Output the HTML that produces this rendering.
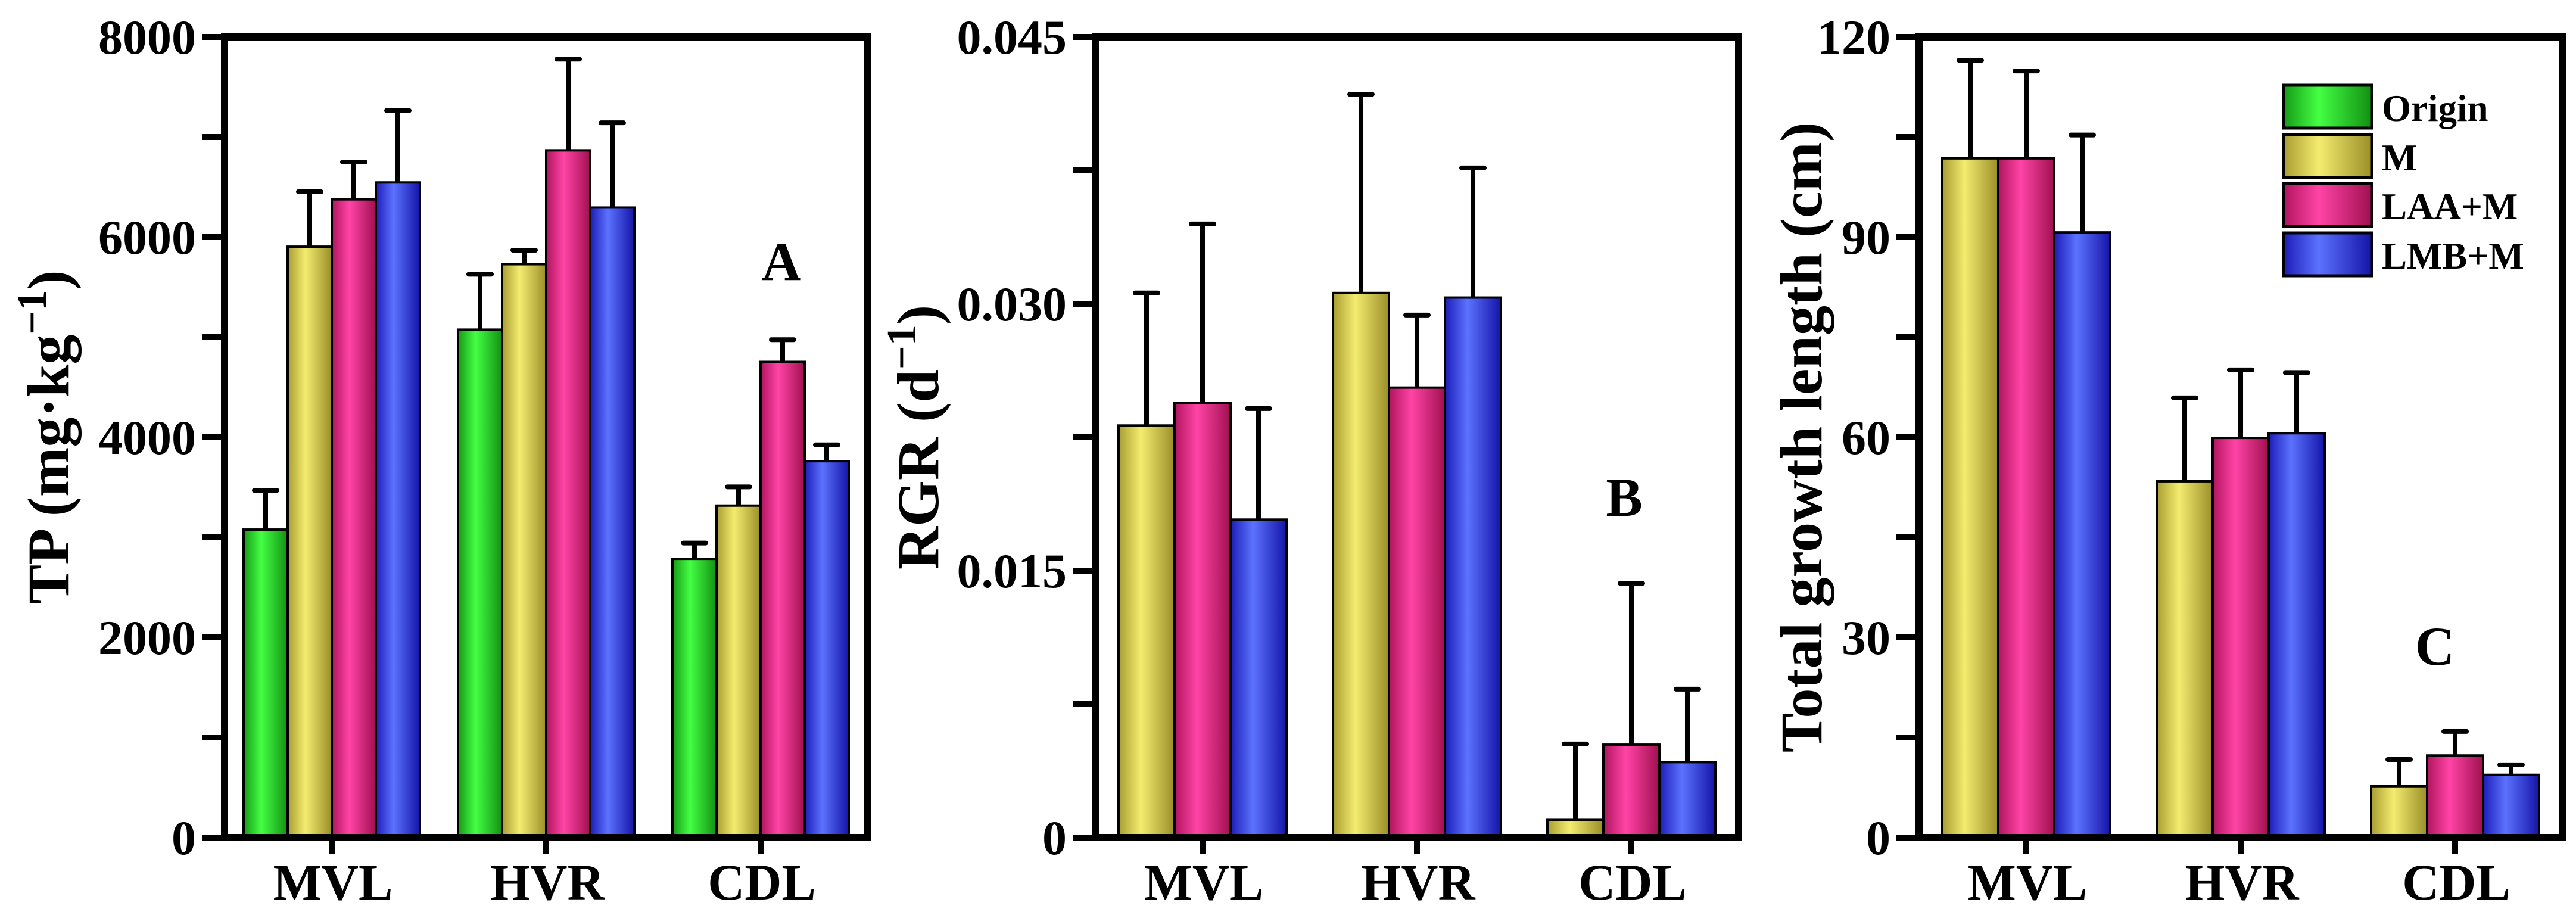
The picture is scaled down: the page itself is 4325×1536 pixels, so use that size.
<!DOCTYPE html>
<html><head><meta charset="utf-8"><style>
html,body{margin:0;padding:0;background:#fff;}
svg{display:block;font-family:"Liberation Serif",serif;font-weight:bold;}
</style></head><body>
<svg id="fig" width="4325" height="1536" viewBox="0 0 4325 1536" xmlns="http://www.w3.org/2000/svg">
<defs>
<linearGradient id="g-green" x1="0" x2="1" y1="0" y2="0"><stop offset="0" stop-color="#159a15"/><stop offset="0.4" stop-color="#44ff44"/><stop offset="1" stop-color="#129012"/></linearGradient>
<linearGradient id="g-yellow" x1="0" x2="1" y1="0" y2="0"><stop offset="0" stop-color="#a89c30"/><stop offset="0.4" stop-color="#f4ec70"/><stop offset="1" stop-color="#9a8e28"/></linearGradient>
<linearGradient id="g-pink" x1="0" x2="1" y1="0" y2="0"><stop offset="0" stop-color="#b0145e"/><stop offset="0.4" stop-color="#ff44a6"/><stop offset="1" stop-color="#a01050"/></linearGradient>
<linearGradient id="g-blue" x1="0" x2="1" y1="0" y2="0"><stop offset="0" stop-color="#1c1cb8"/><stop offset="0.4" stop-color="#5c72ff"/><stop offset="1" stop-color="#1414a8"/></linearGradient>
</defs>
</svg>
<script>
// ---- data ----
const categories = ["MVL", "HVR", "CDL"];
const seriesNames = ["Origin", "M", "LAA+M", "LMB+M"];
const seriesFills = ["url(#g-green)", "url(#g-yellow)", "url(#g-pink)", "url(#g-blue)"];

const tpOrigin = [3077, 5075, 2785];
const tpOriginErr = [392, 554, 158];
const tpM = [5904, 5729, 3317];
const tpMErr = [549, 140, 187];
const tpLAA = [6377, 6867, 4753];
const tpLAAErr = [373, 911, 222];
const tpLMB = [6546, 6295, 3761];
const tpLMBErr = [718, 847, 163];
const tpTicks = [0, 2000, 4000, 6000, 8000];

const rgrM = [0.02316, 0.03061, 0.00099];
const rgrMErr = [0.00745, 0.01117, 0.00427];
const rgrLAA = [0.02444, 0.02529, 0.00522];
const rgrLAAErr = [0.01005, 0.00408, 0.00907];
const rgrLMB = [0.01787, 0.03035, 0.00424];
const rgrLMBErr = [0.00624, 0.00729, 0.0041];
const rgrTicks = ["0", "0.015", "0.030", "0.045"];

const lenM = [101.8, 53.4, 7.7];
const lenMErr = [14.7, 12.5, 4.0];
const lenLAA = [101.8, 59.9, 12.3];
const lenLAAErr = [13.1, 10.2, 3.6];
const lenLMB = [90.7, 60.6, 9.4];
const lenLMBErr = [14.6, 9.1, 1.5];
const lenTicks = [0, 30, 60, 90, 120];

// ---- drawing ----
const NS = "http://www.w3.org/2000/svg";
const svg = document.getElementById("fig");
function mk(tag, attrs, parent) {
  const e = document.createElementNS(NS, tag);
  for (const k in attrs) e.setAttribute(k, attrs[k]);
  (parent || svg).appendChild(e);
  return e;
}
const TOP = 62, BOT = 1406;

function panel(opt) {
  const g = mk("g", {});
  
  
  const L = opt.left, R = opt.left + 1080;
  const ymax = opt.ymax;
  const y = v => BOT - (v / ymax) * (BOT - TOP);
  const groupW = (R - L) / categories.length;
  const cx = i => L + groupW * (i + 0.5);
  const n = opt.series.length;
  const bw = opt.barW;
  opt.series.forEach((s, si) => {
    s.vals.forEach((v, ci) => {
      const x0 = cx(ci) - n * bw / 2 + si * bw;
      const top = y(v);
      const eTop = y(v + s.err[ci]);
      const el = mk("line", {x1: x0 + bw / 2, x2: x0 + bw / 2, y1: top, y2: eTop, stroke: "#000", "stroke-width": 8}, g);
      
      
      const cap = mk("line", {x1: x0 + bw / 2 - 19, x2: x0 + bw / 2 + 19, y1: eTop, y2: eTop, stroke: "#000", "stroke-width": 8, "stroke-linecap": "round"}, g);
      
      
      const r = mk("rect", {x: x0, y: top, width: bw, height: BOT - top, fill: s.fill, stroke: "#000", "stroke-width": 4}, g);
      
      
    });
  });
  const fr = mk("rect", {x: L, y: TOP, width: R - L, height: BOT - TOP, fill: "none", stroke: "#000", "stroke-width": 12}, g);
  
  
  const step = ymax / (opt.ticks.length - 1);
  for (let k = 0; k <= (opt.ticks.length - 1) * 2; k++) {
    const v = k * step / 2;
    const t = mk("line", {x1: L - 38, x2: L, y1: y(v), y2: y(v), stroke: "#000", "stroke-width": 10}, g);
    
    
  }
  opt.ticks.forEach((lab, i) => {
    const t = mk("text", {x: L - 48, y: y(i * step) + 28, "text-anchor": "end", "font-size": 82}, g);
    t.textContent = lab;
    
    
  });
  categories.forEach((c, i) => {
    const t = mk("line", {x1: cx(i), x2: cx(i), y1: BOT, y2: BOT + 28, stroke: "#000", "stroke-width": 10}, g);
    
    
    const tl = mk("text", {x: cx(i) + 2, y: 1510, "text-anchor": "middle", "font-size": 86}, g);
    tl.textContent = c;
    
    
  });
  const tt = mk("text", {x: 0, y: 0, "text-anchor": "middle", "font-size": opt.titleSize, transform: "translate(" + opt.titleX + "," + opt.titleY + ") rotate(-90)"}, g);
  
  
  tt.innerHTML = opt.title;
  const pl = mk("text", {x: opt.letterX, y: opt.letterY, "text-anchor": "middle", "font-size": 92}, g);
  pl.textContent = opt.letter;
  
  
}

panel({name: "panel-a-tp", left: 377, ymax: 8000, barW: 74,
  ticks: tpTicks.map(String),
  series: [
    {key: "origin", vals: tpOrigin, err: tpOriginErr, fill: seriesFills[0]},
    {key: "m", vals: tpM, err: tpMErr, fill: seriesFills[1]},
    {key: "laa-m", vals: tpLAA, err: tpLAAErr, fill: seriesFills[2]},
    {key: "lmb-m", vals: tpLMB, err: tpLMBErr, fill: seriesFills[3]}],
  title: 'TP (mg·kg<tspan baseline-shift="super" font-size="70">−1</tspan>)',
  titleX: 115, titleY: 734, titleSize: 100, letter: "A", letterX: 1312, letterY: 470});

panel({name: "panel-b-rgr", left: 1839, ymax: 0.045, barW: 94,
  ticks: rgrTicks,
  series: [
    {key: "m", vals: rgrM, err: rgrMErr, fill: seriesFills[1]},
    {key: "laa-m", vals: rgrLAA, err: rgrLAAErr, fill: seriesFills[2]},
    {key: "lmb-m", vals: rgrLMB, err: rgrLMBErr, fill: seriesFills[3]}],
  title: 'RGR (d<tspan baseline-shift="super" font-size="70">−1</tspan>)',
  titleX: 1575, titleY: 734, titleSize: 100, letter: "B", letterX: 2727, letterY: 866});

panel({name: "panel-c-length", left: 3222, ymax: 120, barW: 94,
  ticks: lenTicks.map(String),
  series: [
    {key: "m", vals: lenM, err: lenMErr, fill: seriesFills[1]},
    {key: "laa-m", vals: lenLAA, err: lenLAAErr, fill: seriesFills[2]},
    {key: "lmb-m", vals: lenLMB, err: lenLMBErr, fill: seriesFills[3]}],
  title: 'Total growth length (cm)',
  titleX: 3058, titleY: 734, titleSize: 100, letter: "C", letterX: 4088, letterY: 1116});

const lg = mk("g", {});


const rowsY = [143, 226, 308, 391];
seriesNames.forEach((nm, i) => {
  const r = mk("rect", {x: 3834, y: rowsY[i], width: 148, height: 72, fill: seriesFills[i], stroke: "#000", "stroke-width": 5}, lg);
  
  
  const t = mk("text", {x: 3999, y: rowsY[i] + 60, "font-size": 63}, lg);
  t.textContent = nm;
  
  
});
</script>
</body></html>
